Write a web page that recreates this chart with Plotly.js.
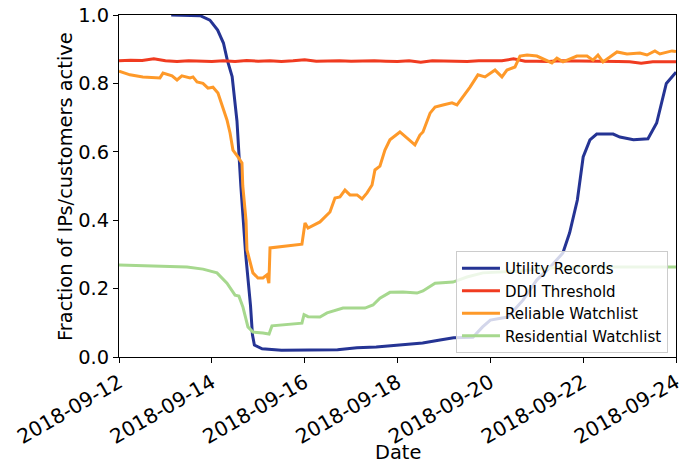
<!DOCTYPE html>
<html>
<head>
<meta charset="utf-8">
<script src="https://cdn.plot.ly/plotly-3.0.1.min.js"></script>
<style>html,body{margin:0;padding:0;background:#fff;}#chart{width:686px;height:469px;}</style>
</head>
<body>
<div id="chart"></div>
<script>
// ---- Data ----
var seriesNames = ["Utility Records", "DDII Threshold", "Reliable Watchlist", "Residential Watchlist"];
var xTitle = "Date";
var yTitle = "Fraction of IPs/customers active";

var utilityDates = ["2018-09-13 03:00","2018-09-13 18:00","2018-09-13 23:00","2018-09-14 03:00","2018-09-14 06:00","2018-09-14 08:00","2018-09-14 10:30","2018-09-14 11:00","2018-09-14 13:00","2018-09-14 15:00","2018-09-14 17:30","2018-09-14 20:00","2018-09-14 21:00","2018-09-14 22:00","2018-09-15 02:00","2018-09-15 12:00","2018-09-16 17:00","2018-09-17 03:00","2018-09-17 13:00","2018-09-18 01:00","2018-09-18 13:00","2018-09-18 22:00","2018-09-19 05:00","2018-09-19 15:00","2018-09-19 20:00","2018-09-20 00:00","2018-09-20 09:00","2018-09-20 17:00","2018-09-21 00:00","2018-09-21 07:00","2018-09-21 13:30","2018-09-21 17:00","2018-09-21 21:00","2018-09-22 00:00","2018-09-22 03:30","2018-09-22 07:00","2018-09-22 15:30","2018-09-22 19:00","2018-09-23 02:00","2018-09-23 09:30","2018-09-23 14:00","2018-09-23 19:00","2018-09-24 00:00"];
var utilityValues = [1.0,0.998,0.985,0.956,0.918,0.868,0.82,0.79,0.69,0.50,0.30,0.15,0.065,0.035,0.024,0.02,0.021,0.027,0.029,0.035,0.041,0.05,0.056,0.058,0.088,0.108,0.117,0.167,0.225,0.263,0.304,0.363,0.459,0.585,0.635,0.652,0.652,0.643,0.635,0.638,0.684,0.80,0.833];

var ddiiDates = ["2018-09-12 00:00","2018-09-12 06:00","2018-09-12 12:00","2018-09-12 18:00","2018-09-13 00:00","2018-09-13 06:00","2018-09-13 12:00","2018-09-13 18:00","2018-09-14 00:00","2018-09-14 06:00","2018-09-14 12:00","2018-09-14 18:00","2018-09-15 00:00","2018-09-15 06:00","2018-09-15 12:00","2018-09-15 18:00","2018-09-16 00:00","2018-09-16 06:00","2018-09-16 12:00","2018-09-16 18:00","2018-09-17 00:00","2018-09-17 06:00","2018-09-17 12:00","2018-09-17 18:00","2018-09-18 00:00","2018-09-18 06:00","2018-09-18 12:00","2018-09-18 18:00","2018-09-19 00:00","2018-09-19 06:00","2018-09-19 12:00","2018-09-19 18:00","2018-09-20 00:00","2018-09-20 06:00","2018-09-20 12:00","2018-09-20 18:00","2018-09-21 00:00","2018-09-21 06:00","2018-09-21 12:00","2018-09-21 18:00","2018-09-22 00:00","2018-09-22 06:00","2018-09-22 12:00","2018-09-22 18:00","2018-09-23 00:00","2018-09-23 06:00","2018-09-23 12:00","2018-09-23 18:00","2018-09-24 00:00"];
var ddiiValues = [0.866,0.868,0.867,0.872,0.866,0.864,0.866,0.865,0.864,0.866,0.864,0.867,0.865,0.866,0.864,0.866,0.869,0.865,0.866,0.866,0.865,0.866,0.866,0.865,0.864,0.866,0.862,0.866,0.865,0.866,0.864,0.866,0.865,0.866,0.872,0.865,0.865,0.864,0.866,0.866,0.865,0.865,0.864,0.864,0.863,0.859,0.863,0.864,0.863];

var reliableDates = ["2018-09-12 00:00","2018-09-12 05:40","2018-09-12 12:20","2018-09-12 21:10","2018-09-12 22:45","2018-09-13 03:25","2018-09-13 06:00","2018-09-13 08:30","2018-09-13 12:45","2018-09-13 14:15","2018-09-13 16:20","2018-09-13 19:25","2018-09-13 22:00","2018-09-14 00:35","2018-09-14 03:10","2018-09-14 05:45","2018-09-14 07:50","2018-09-14 09:25","2018-09-14 10:55","2018-09-14 13:30","2018-09-14 15:35","2018-09-14 16:00","2018-09-14 17:40","2018-09-14 18:10","2018-09-14 19:45","2018-09-14 21:15","2018-09-14 23:50","2018-09-15 02:25","2018-09-15 04:30","2018-09-15 05:30","2018-09-15 06:05","2018-09-15 22:35","2018-09-16 00:10","2018-09-16 01:45","2018-09-16 07:55","2018-09-16 10:30","2018-09-16 13:05","2018-09-16 15:40","2018-09-16 18:15","2018-09-16 20:50","2018-09-16 23:25","2018-09-17 03:05","2018-09-17 05:40","2018-09-17 08:15","2018-09-17 10:50","2018-09-17 12:20","2018-09-17 14:55","2018-09-17 17:30","2018-09-17 20:05","2018-09-18 01:15","2018-09-18 04:55","2018-09-18 09:00","2018-09-18 11:35","2018-09-18 13:10","2018-09-18 16:50","2018-09-18 19:25","2018-09-18 23:30","2018-09-19 04:10","2018-09-19 06:45","2018-09-19 13:30","2018-09-19 17:35","2018-09-19 21:15","2018-09-20 02:25","2018-09-20 06:00","2018-09-20 08:35","2018-09-20 12:45","2018-09-20 15:20","2018-09-20 19:00","2018-09-21 00:05","2018-09-21 05:15","2018-09-21 07:50","2018-09-21 10:25","2018-09-21 13:35","2018-09-21 20:45","2018-09-22 02:00","2018-09-22 05:05","2018-09-22 07:40","2018-09-22 10:15","2018-09-22 17:30","2018-09-22 22:40","2018-09-23 05:20","2018-09-23 09:00","2018-09-23 13:05","2018-09-23 15:40","2018-09-23 21:55","2018-09-24 00:00"];
var reliableValues = [0.836,0.825,0.819,0.816,0.83,0.822,0.81,0.822,0.816,0.819,0.804,0.80,0.786,0.789,0.772,0.731,0.693,0.655,0.605,0.585,0.567,0.50,0.40,0.313,0.275,0.246,0.231,0.231,0.24,0.216,0.319,0.33,0.392,0.377,0.395,0.41,0.424,0.465,0.468,0.488,0.474,0.474,0.462,0.48,0.503,0.547,0.558,0.605,0.635,0.658,0.64,0.62,0.649,0.658,0.713,0.731,0.737,0.743,0.737,0.789,0.825,0.819,0.839,0.819,0.839,0.848,0.88,0.883,0.88,0.868,0.86,0.874,0.863,0.88,0.88,0.868,0.883,0.863,0.892,0.886,0.889,0.883,0.895,0.886,0.895,0.893];

var residentialDates = ["2018-09-12 00:00","2018-09-13 11:10","2018-09-13 19:25","2018-09-14 02:40","2018-09-14 07:50","2018-09-14 12:00","2018-09-14 14:00","2018-09-14 16:05","2018-09-14 18:40","2018-09-14 21:15","2018-09-15 02:25","2018-09-15 05:35","2018-09-15 07:05","2018-09-15 21:35","2018-09-15 22:35","2018-09-15 23:40","2018-09-16 01:45","2018-09-16 07:55","2018-09-16 11:35","2018-09-16 19:50","2018-09-17 07:10","2018-09-17 11:20","2018-09-17 14:55","2018-09-17 20:05","2018-09-18 02:50","2018-09-18 10:05","2018-09-18 13:10","2018-09-18 19:25","2018-09-19 04:40","2018-09-19 11:55","2018-09-19 20:10","2018-09-20 13:45","2018-09-21 06:50","2018-09-21 23:55","2018-09-24 00:00"];
var residentialValues = [0.269,0.263,0.257,0.246,0.216,0.181,0.178,0.146,0.088,0.073,0.07,0.067,0.091,0.097,0.099,0.124,0.118,0.117,0.129,0.143,0.143,0.152,0.172,0.189,0.19,0.187,0.193,0.216,0.219,0.234,0.246,0.251,0.26,0.263,0.263];

var seriesColors = ["#253494", "#f03b20", "#fe9929", "#a6d88e"];
var xTickDates = ["2018-09-12","2018-09-14","2018-09-16","2018-09-18","2018-09-20","2018-09-22","2018-09-24"];
var yTickValues = [0.0, 0.2, 0.4, 0.6, 0.8, 1.0];

// ---- Traces ----
var xs = [utilityDates, ddiiDates, reliableDates, residentialDates];
var ys = [utilityValues, ddiiValues, reliableValues, residentialValues];
var traces = seriesNames.map(function(name, i) {
  return {
    x: xs[i], y: ys[i], name: name, type: "scatter", mode: "lines",
    line: {color: seriesColors[i], width: 3},
    legendgroup: "g" + i
  };
});

var baseFont = {family: "DejaVu Sans, sans-serif", size: 19.4, color: "#000"};
var xTickFont = {family: "DejaVu Sans, sans-serif", size: 20.2, color: "#000"};

var layout = {
  width: 686, height: 469,
  margin: {l: 119, r: 10, t: 15, b: 112},
  paper_bgcolor: "#fff", plot_bgcolor: "#fff",
  font: baseFont,
  showlegend: true,
  legend: {
    x: 0.9856, y: 0.012, xanchor: "right", yanchor: "bottom",
    bgcolor: "rgba(255,255,255,0.8)", bordercolor: "#cccccc", borderwidth: 1,
    font: {family: "DejaVu Sans, sans-serif", size: 15, color: "#000"},
    traceorder: "grouped", tracegroupgap: 0, itemwidth: 38
  },
  xaxis: {
    type: "date",
    range: ["2018-09-12", "2018-09-24"],
    tickmode: "array", tickvals: xTickDates, ticktext: xTickDates,
    tickangle: -30,
    showline: true, mirror: true, linecolor: "#000", linewidth: 1,
    ticks: "outside", ticklen: 5, tickcolor: "#000", tickwidth: 1,
    showgrid: false, zeroline: false,
    tickfont: xTickFont
  },
  yaxis: {
    range: [0, 1],
    tickmode: "array", tickvals: yTickValues, tickformat: ".1f",
    showline: true, mirror: true, linecolor: "#000", linewidth: 1,
    ticks: "outside", ticklen: 5, tickcolor: "#000", tickwidth: 1,
    showgrid: false, zeroline: false,
    tickfont: baseFont
  },
  annotations: [
    {text: xTitle, xref: "paper", yref: "paper", x: 0.5, y: -0.28,
     xanchor: "center", yanchor: "middle", showarrow: false, font: baseFont},
    {text: yTitle, xref: "paper", yref: "paper", x: -0.097, y: 0.5, textangle: -90,
     xanchor: "center", yanchor: "middle", showarrow: false, font: baseFont}
  ]
};

Plotly.newPlot("chart", traces, layout, {displayModeBar: false, staticPlot: true});
</script>
</body>
</html>
